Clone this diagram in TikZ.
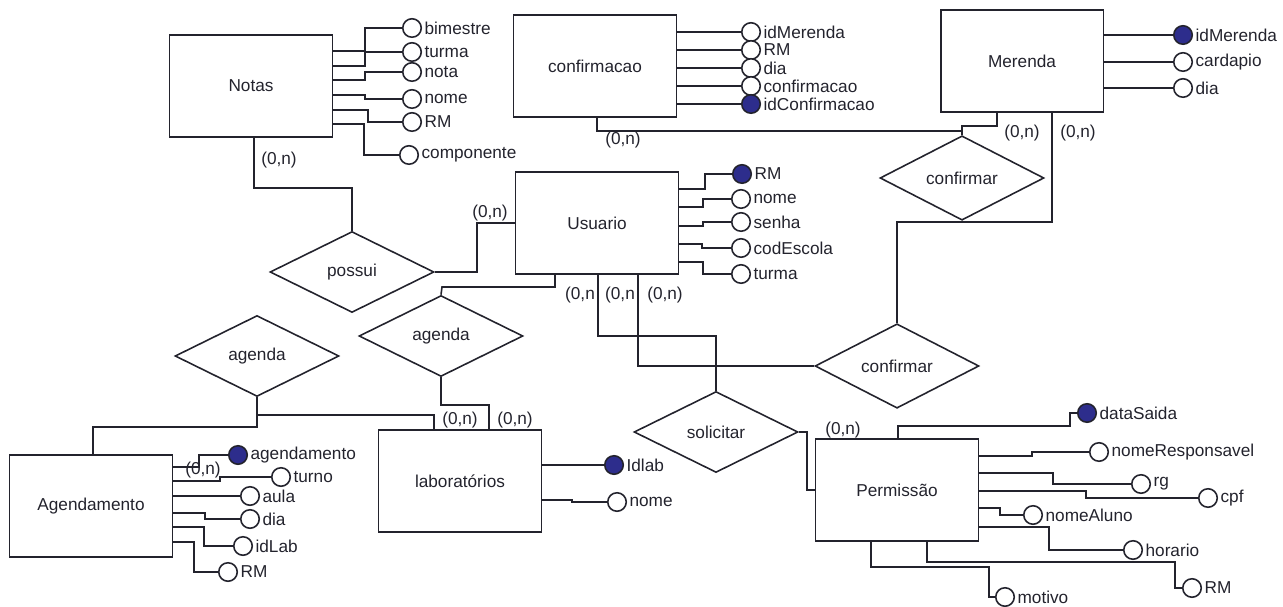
\documentclass[tikz,border=0pt]{standalone}
\usepackage{fontspec}
\setmainfont{Liberation Sans}
\usetikzlibrary{shapes.geometric}
\definecolor{keyblue}{RGB}{45,45,140}
\definecolor{ink}{RGB}{35,35,45}
\begin{document}
\begin{tikzpicture}[x=0.02cm, y=-0.02cm, color=ink, line width=0.9pt,
    font=\fontsize{9.8}{11.5}\selectfont,
    entity/.style={draw, rectangle, line width=1.1pt, minimum width=3.26cm, minimum height=2.04cm},
    rel/.style={draw, diamond, minimum width=3.28cm, minimum height=1.62cm, inner sep=0pt},
    attr/.style={draw, circle, minimum size=0.37cm, inner sep=0pt},
    card/.style={inner sep=0pt},
    every label/.style={inner sep=1pt}]
    \useasboundingbox (0,0) rectangle (1283,607);
    %Entities
    \node[entity] (notas) at (251,86) {Notas};
    \node[entity] (confirmacao) at (595,66) {confirmacao};
    \node[entity] (merenda) at (1022,61) {Merenda};
    \node[entity] (usuario) at (597,223) {Usuario};
    \node[entity] (agendamento) at (91,506) {Agendamento};
    \node[entity] (labs) at (460,481) {laboratórios};
    \node[entity] (permissao) at (897,490) {Permissão};
    %Relationships
    \node[rel] (possui) at (352,272) {possui};
    \node[rel] (agendaB) at (441,336) {agenda};
    \node[rel] (agendaA) at (257,356) {agenda};
    \node[rel] (solicitar) at (716,432) {solicitar};
    \node[rel] (confirmarB) at (897,366) {confirmar};
    \node[rel] (confirmarA) at (962,178) {confirmar};
    %Cardinalities
    \foreach \x/\y in {279/160, 490/213, 665/295, 460/420, 515/420, 203/470, 843/430, 623/140, 1022/133, 1078/133}
      \node[card] (card\x) at (\x,\y) {(0,n)};
    \foreach \x in {580, 620}
      \node[card] (card\x) at (\x,295) {(0,n};
    %Connectors
    \draw (notas.south -| 254,0) |- (352,188) -- (possui.north);
    \draw (possui.east) -| (477,223) -- (usuario.west);
    \draw (usuario.south -| 555,0) |- (442,287) -- (agendaB.north);
    \draw (usuario.south -| 598,0) |- (716,336) -- (solicitar.north);
    \draw (usuario.south -| 638,0) |- (confirmarB.west);
    \draw (agendaB.south) |- (489,405) -- (labs.north -| 489,0);
    \draw (agendaA.south) |- (434,415) -- (labs.north -| 434,0);
    \draw (agendaA.south) -- (257,427) -| (agendamento.north -| 93,0);
    \draw (solicitar.east) -| (807,490) -- (permissao.west);
    \draw (confirmarB.north) |- (1052,222) -- (merenda.south -| 1052,0);
    \draw (confirmarA.north) -- (962,126) -| (merenda.south -| 997,0);
    \draw (confirmacao.south -| 597,0) |- (962,131);
    %Notas attributes
    \foreach \i/\t/\f/\ya/\xs/\xc/\yc in {1/bimestre/white/51/365/412/28, 2/turma/white/66/365/412/52,
        3/nota/white/80/365/412/72, 4/nome/white/95/365/412/99, 5/RM/white/110/368/412/122,
        6/componente/white/124/364/409/155}
      {\node[attr, fill=\f, label=right:\t] (notas\i) at (\xc,\yc) {};
       \draw (notas.east |- 0,\ya) -| (\xs,\yc) -- (notas\i);}
    %confirmacao attributes
    \foreach \i/\t/\f/\ya/\xs/\xc/\yc in {1/idMerenda/white/32/700/751/32, 2/RM/white/50/700/751/50,
        3/dia/white/68/700/751/68, 4/confirmacao/white/86/700/751/86, 5/idConfirmacao/keyblue/104/700/751/104}
      {\node[attr, fill=\f, label=right:\t] (conf\i) at (\xc,\yc) {};
       \draw (confirmacao.east |- 0,\ya) -| (\xs,\yc) -- (conf\i);}
    %Merenda attributes
    \foreach \i/\t/\f/\ya/\xs/\xc/\yc in {1/idMerenda/keyblue/35/1140/1183/35, 2/cardapio/white/62/1140/1183/62,
        3/dia/white/88/1140/1183/88}
      {\node[attr, fill=\f, label=right:\t] (mer\i) at (\xc,\yc) {};
       \draw (merenda.east |- 0,\ya) -| (\xs,\yc) -- (mer\i);}
    %Usuario attributes
    \foreach \i/\t/\f/\ya/\xs/\xc/\yc in {1/RM/keyblue/189/705/742/174, 2/nome/white/207/703/741/199,
        3/senha/white/226/703/741/222, 4/codEscola/white/244/702/741/248, 5/turma/white/262/703/741/274}
      {\node[attr, fill=\f, label=right:\t] (usu\i) at (\xc,\yc) {};
       \draw (usuario.east |- 0,\ya) -| (\xs,\yc) -- (usu\i);}
    %Agendamento attributes
    \foreach \i/\t/\f/\ya/\xs/\xc/\yc in {1/agendamento/keyblue/467/199/238/455, 2/turno/white/481/220/281/477,
        3/aula/white/496/205/250/496, 4/dia/white/513/205/250/519, 5/idLab/white/527/204/243/546,
        6/RM/white/542/194/228/572}
      {\node[attr, fill=\f, label=right:\t] (ag\i) at (\xc,\yc) {};
       \draw (agendamento.east |- 0,\ya) -| (\xs,\yc) -- (ag\i);}
    %laboratorios attributes
    \foreach \i/\t/\f/\ya/\xs/\xc/\yc in {1/Idlab/keyblue/465/572/614/465, 2/nome/white/500/572/617/502}
      {\node[attr, fill=\f, label=right:\t] (lab\i) at (\xc,\yc) {};
       \draw (labs.east |- 0,\ya) -| (\xs,\yc) -- (lab\i);}
    %Permissao attributes
    \foreach \i/\t/\f/\ya/\xs/\xc/\yc in {1/nomeResponsavel/white/456/1032/1099/452, 2/rg/white/473/1053/1141/484,
        3/cpf/white/491/1086/1208/498, 4/nomeAluno/white/508/1000/1033/515, 5/horario/white/527/1049/1133/550}
      {\node[attr, fill=\f, label=right:\t] (perm\i) at (\xc,\yc) {};
       \draw (permissao.east |- 0,\ya) -| (\xs,\yc) -- (perm\i);}
    \node[attr, fill=keyblue, label=right:dataSaida] (perm0) at (1087,413) {};
    \node[attr, fill=white, label=right:motivo] (perm6) at (1005,597) {};
    \node[attr, fill=white, label=right:RM] (perm7) at (1192,588) {};
    \draw (permissao.north -| 898,0) |- (1070,426) |- (perm0);
    \draw (permissao.south -| 871,0) |- (989,567) |- (perm6);
    \draw (permissao.south -| 927,0) |- (1175,562) |- (perm7);
\end{tikzpicture}
\end{document}
